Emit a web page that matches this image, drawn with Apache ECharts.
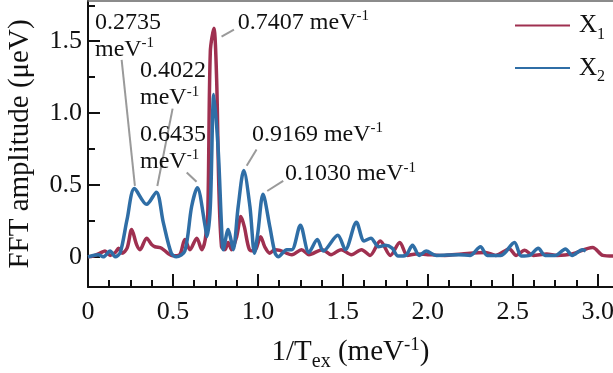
<!DOCTYPE html>
<html>
<head>
<meta charset="utf-8">
<script src="https://cdn.jsdelivr.net/npm/echarts@6/dist/echarts.min.js"></script>
<style>html,body{margin:0;padding:0;background:#fff}#c{width:613px;height:373px}</style>
</head>
<body>
<div id="c"></div>
<script>
// ---- data ----
const seriesNames = ['X1', 'X2'];
const x1Freq = [0,0.03,0.07,0.1,0.13,0.16,0.18,0.2,0.23,0.257,0.286,0.306,0.345,0.375,0.394,0.433,0.47,0.5,0.54,0.57,0.6,0.64,0.67,0.69,0.705,0.72,0.741,0.757,0.77,0.786,0.806,0.825,0.845,0.875,0.9,0.92,0.95,0.98,1.016,1.04,1.07,1.1,1.13,1.2,1.257,1.3,1.38,1.43,1.49,1.55,1.61,1.66,1.72,1.78,1.835,1.88,1.93,2.0,2.1,2.2,2.34,2.4,2.48,2.52,2.57,2.62,2.7,2.76,2.85,2.97,3.03,3.09];
const x1Amp  = [0,0.005,0.025,0.04,0.01,0.03,0.06,0.025,0.06,0.19,0.085,0.05,0.13,0.085,0.07,0.06,0.025,0.007,0.015,0.12,0.05,0.13,0.05,0.12,0.3,1.43,1.59,1.24,0.49,0.07,0.05,0.1,0.05,0.14,0.28,0.21,0.05,0.04,0.14,0.07,0.025,0.05,0.045,0.015,0.05,0.015,0.05,0.015,0.05,0.015,0.05,0.01,0.11,0.01,0.1,0.01,0.02,0.015,0.01,0.02,0.03,0.01,0.055,0.01,0.045,0.01,0.02,0.01,0.02,0.065,0.01,0.005];
const x2Freq = [0,0.06,0.09,0.13,0.16,0.19,0.23,0.2735,0.345,0.4022,0.443,0.49,0.52,0.57,0.61,0.6435,0.69,0.7,0.72,0.7407,0.767,0.786,0.796,0.825,0.845,0.855,0.884,0.9169,0.953,0.98,1.0,1.03,1.07,1.1,1.12,1.17,1.2,1.25,1.3,1.35,1.385,1.47,1.515,1.58,1.625,1.665,1.71,1.75,1.79,1.825,1.87,1.91,1.95,1.99,2.05,2.18,2.25,2.31,2.35,2.43,2.51,2.55,2.6,2.65,2.69,2.75,2.81,2.85,2.91,2.93];
const x2Amp  = [0,0.015,0,0.04,0,0.03,0.26,0.475,0.365,0.45,0.24,0.026,0,0.04,0.35,0.48,0.21,0.14,0.35,1.13,0.73,0.21,0.05,0.19,0.1,0.05,0.35,0.6,0.35,0.025,0.17,0.435,0.21,0.03,0,0.05,0.05,0.22,0.03,0.12,0.04,0.15,0.05,0.24,0.11,0.13,0.07,0.08,0.06,0.005,0.01,0.08,0.01,0.04,0.01,0.015,0.01,0.07,0.01,0.01,0.1,0.005,0.01,0.06,0.01,0.01,0.055,0.01,0.05,0.04];
const yTickLabels = [0, 0.5, 1.0, 1.5];
const xTickLabels = [0, 0.5, 1.0, 1.5, 2.0, 2.5, 3.0];
const peakLabels = ['0.2735', '0.4022', '0.6435', '0.7407', '0.9169', '0.1030'];

// ---- layout (annotation placement, in data units) ----
const annLayout = [
  {text: [0.041, 1.725], twoLine: true,  from: [0.198, 1.37],  to: [0.276, 0.493]},
  {text: [0.306, 1.388], twoLine: true,  from: [0.498, 1.031], to: [0.408, 0.493]},
  {text: [0.306, 0.947], twoLine: true,  from: [0.581, 0.587], to: [0.639, 0.522]},
  {text: [0.882, 1.725], twoLine: false, from: [0.786, 1.532], to: [0.859, 1.58]},
  {text: [0.965, 0.947], twoLine: false, from: [0.934, 0.633], to: [0.992, 0.747]},
  {text: [1.159, 0.673], twoLine: false, from: [1.055, 0.458], to: [1.149, 0.528]}
];

const FONT = 'Liberation Serif';
const RED = '#9f3050', BLUE = '#2f6ea6';
const pair = (xs, ys) => xs.map((x, i) => [x, ys[i]]);
const minorY = [0.25, 0.75, 1.25, 1.75];
const minorX = [];
for (let i = 0; i <= 24; i++) { const v = i * 0.125; if (Math.abs(v / 0.5 - Math.round(v / 0.5)) > 1e-6) minorX.push(v); }

const chart = echarts.init(document.getElementById('c'));
const yMin = -0.21, yMax = 1.78, xMin = 0, xMax = 3.09;
const tickLine = {color: '#111', width: 2};
chart.setOption({
  animation: false,
  grid: {left: 88, right: 0, top: 1, bottom: 86, containLabel: false, outerBoundsMode: 'none'},
  legend: {
    orient: 'vertical', left: 510, top: 8, itemWidth: 55, itemHeight: 14, itemGap: 13,
    icon: 'path://M0,6 L55,6 L55,8 L0,8 Z',
    data: seriesNames,
    formatter: n => '{m|X}{s|' + n.slice(1) + '}',
    textStyle: {fontFamily: FONT, fontSize: 24, color: '#111', padding: [0, 0, 0, 4],
      rich: {m: {fontFamily: FONT, fontSize: 25, color: '#111', lineHeight: 26},
             s: {fontFamily: FONT, fontSize: 16, color: '#111', padding: [18, 0, 0, 0]}}}
  },
  xAxis: [
    {type: 'value', min: xMin, max: xMax, position: 'bottom',
     name: '{m|1/T}{s|ex}{m| (meV}{p|-1}{m|)}', nameLocation: 'middle', nameGap: 45,
     nameTextStyle: {fontFamily: FONT, fontSize: 29, color: '#111',
       rich: {m: {fontFamily: FONT, fontSize: 29, color: '#111', lineHeight: 32},
              s: {fontFamily: FONT, fontSize: 20, color: '#111', padding: [20, 0, 0, 0]},
              p: {fontFamily: FONT, fontSize: 19, color: '#111', padding: [0, 0, 14, 0]}}},
     axisLine: {show: true, onZero: false, lineStyle: {color: '#111', width: 2}},
     axisTick: {show: true, inside: true, length: 13, lineStyle: tickLine, customValues: xTickLabels},
     axisLabel: {fontFamily: FONT, fontSize: 26, color: '#111', margin: 12, customValues: xTickLabels,
       formatter: v => v === 0 ? '0' : v.toFixed(1)},
     splitLine: {show: false}},
    {type: 'value', min: xMin, max: xMax, position: 'bottom',
     axisLine: {show: false, onZero: false}, axisLabel: {show: false}, splitLine: {show: false},
     axisTick: {show: true, inside: true, length: 7, lineStyle: tickLine, customValues: minorX}},
    {type: 'value', min: xMin, max: xMax, position: 'top',
     axisLine: {show: true, onZero: false, lineStyle: {color: '#666', width: 1.5}}, axisLabel: {show: false},
     axisTick: {show: false}, splitLine: {show: false}}
  ],
  yAxis: [
    {type: 'value', min: yMin, max: yMax, position: 'left',
     name: 'FFT amplitude (μeV)', nameLocation: 'middle', nameGap: 53,
     nameTextStyle: {fontFamily: FONT, fontSize: 29, color: '#111'},
     axisLine: {show: true, onZero: false, lineStyle: {color: '#111', width: 2}},
     axisTick: {show: true, inside: true, length: 12, lineStyle: tickLine, customValues: yTickLabels},
     axisLabel: {fontFamily: FONT, fontSize: 26, color: '#111', margin: 6, customValues: yTickLabels,
       formatter: v => v === 0 ? '0' : v.toFixed(1)},
     splitLine: {show: false}},
    {type: 'value', min: yMin, max: yMax, position: 'left',
     axisLine: {show: false, onZero: false}, axisLabel: {show: false}, splitLine: {show: false},
     axisTick: {show: true, inside: true, length: 7, lineStyle: tickLine, customValues: minorY}}
  ],
  series: [
    {name: 'X1', type: 'line', data: pair(x1Freq, x1Amp), showSymbol: false, symbol: 'none', smooth: 0.3,
     lineStyle: {color: RED, width: 3.5}, itemStyle: {color: RED}, z: 2},
    {name: 'X2', type: 'line', data: pair(x2Freq, x2Amp), showSymbol: false, symbol: 'none', smooth: 0.3,
     lineStyle: {color: BLUE, width: 3.5}, itemStyle: {color: BLUE}, z: 3}
  ]
});

// annotations with leader lines, placed via the chart's own coordinate system
const graphics = [];
annLayout.forEach((a, i) => {
  const p1 = chart.convertToPixel({gridIndex: 0}, a.from);
  const p2 = chart.convertToPixel({gridIndex: 0}, a.to);
  const pt = chart.convertToPixel({gridIndex: 0}, a.text);
  graphics.push({type: 'line', silent: true, z: 10,
    shape: {x1: p1[0], y1: p1[1], x2: p2[0], y2: p2[1]},
    style: {stroke: '#9a9a9a', lineWidth: 2}});
  const txt = a.twoLine ? '{n|' + peakLabels[i] + '}\n{n|meV}{s|-1}' : '{n|' + peakLabels[i] + ' meV}{s|-1}';
  graphics.push({type: 'text', silent: true, z: 11, x: pt[0], y: pt[1],
    style: {text: txt, fontFamily: FONT, fontSize: 24, fill: '#111', verticalAlign: 'top', align: 'left',
      rich: {n: {fontFamily: FONT, fontSize: 24, lineHeight: 27, fill: '#111', color: '#111'},
             s: {fontFamily: FONT, fontSize: 15, fill: '#111', color: '#111', padding: [0, 0, 12, 0]}}}});
});
chart.setOption({graphic: graphics});
</script>
</body>
</html>
